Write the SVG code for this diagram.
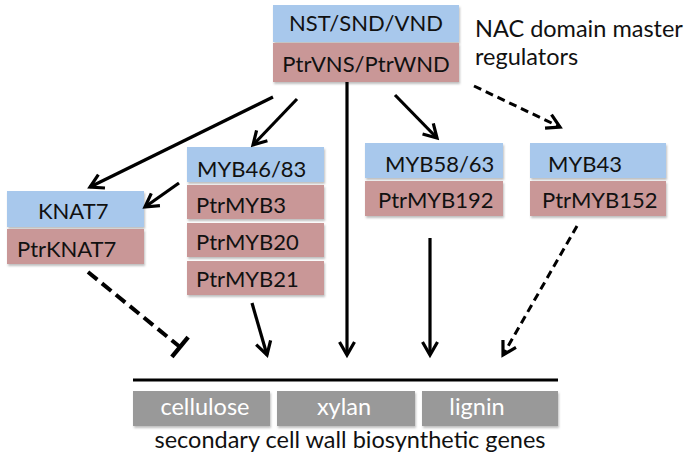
<svg xmlns="http://www.w3.org/2000/svg" width="685" height="459" viewBox="0 0 685 459">
<defs>
<style>
text{font-family:Lato,"Liberation Sans",sans-serif;font-size:22px;fill:#111}
.l{font-size:23.5px}
.b{fill:#a8c8ec;filter:url(#sh)}
.r{fill:#c99797;filter:url(#sh)}
.g{fill:#999999;filter:url(#sh)}
.w{fill:#fff}
.m{text-anchor:middle}
.a{stroke:#000;stroke-width:3.2;fill:none;marker-end:url(#ah)}
.d{stroke:#000;stroke-width:3;fill:none;stroke-dasharray:8 5;marker-end:url(#ah)}
.i{stroke:#000;stroke-width:4;fill:none;stroke-dasharray:12 6;marker-end:url(#bar)}
</style>
<filter id="sh" x="-10%" y="-20%" width="120%" height="150%">
<feDropShadow dx="1" dy="2" stdDeviation="1.2" flood-color="#000" flood-opacity="0.25"/>
</filter>
<marker id="ah" markerUnits="userSpaceOnUse" markerWidth="20" markerHeight="20" viewBox="-15 -10 17 20" refX="0" refY="0" orient="auto">
<path d="M-13,-7.5 L0,0 L-13,7.5" stroke="#000" stroke-width="3.2" fill="none"/>
</marker>
<marker id="bar" markerUnits="userSpaceOnUse" markerWidth="20" markerHeight="30" viewBox="-4 -14 8 28" refX="0" refY="0" orient="auto">
<path d="M0,-12 L0,12" stroke="#000" stroke-width="4" fill="none"/>
</marker>
</defs>

<g id="nac">
<rect class="b" x="273" y="5" width="186" height="37"/>
<rect class="r" x="273" y="43" width="186" height="39"/>
<text class="m" x="366" y="31">NST/SND/VND</text>
<text class="m" x="366" y="72">PtrVNS/PtrWND</text>
</g>
<g id="nac-label">
<text class="l" x="475" y="37">NAC domain master</text>
<text class="l" x="475" y="65">regulators</text>
</g>

<g id="knat7">
<rect class="b" x="7" y="191" width="137" height="36"/>
<rect class="r" x="7" y="229" width="137" height="35"/>
<text x="38" y="219">KNAT7</text>
<text x="17" y="257">PtrKNAT7</text>
</g>

<g id="myb46">
<rect class="b" x="187" y="147" width="137" height="35"/>
<rect class="r" x="187" y="185" width="137" height="34"/>
<rect class="r" x="187" y="223" width="137" height="34"/>
<rect class="r" x="187" y="261" width="137" height="34"/>
<text x="197" y="177">MYB46/83</text>
<text x="196" y="213">PtrMYB3</text>
<text x="196" y="250">PtrMYB20</text>
<text x="196" y="287">PtrMYB21</text>
</g>

<g id="myb58">
<rect class="b" x="365" y="143" width="138" height="35"/>
<rect class="r" x="365" y="181" width="138" height="35"/>
<text x="385" y="172">MYB58/63</text>
<text x="378" y="208">PtrMYB192</text>
</g>

<g id="myb43">
<rect class="b" x="530" y="143" width="136" height="35"/>
<rect class="r" x="530" y="181" width="136" height="35"/>
<text x="548" y="172">MYB43</text>
<text x="542" y="208">PtrMYB152</text>
</g>

<g id="genes">
<line x1="133" y1="380" x2="558" y2="380" stroke="#000" stroke-width="3"/>
<rect class="g" x="133" y="391" width="137" height="35"/>
<rect class="g" x="277" y="391" width="138" height="35"/>
<rect class="g" x="422" y="391" width="136" height="35"/>
<text class="m w l" x="205" y="415">cellulose</text>
<text class="m w l" x="344" y="415">xylan</text>
<text class="m w l" x="477" y="415">lignin</text>
<text class="m l" x="350" y="448">secondary cell wall biosynthetic genes</text>
</g>

<g id="connectors">
<line class="a" x1="273" y1="97" x2="90" y2="187"/>
<line class="a" x1="297" y1="99" x2="253" y2="145"/>
<line class="a" x1="179" y1="183" x2="145" y2="207"/>
<line class="a" x1="395" y1="95" x2="437" y2="138"/>
<line class="d" x1="474" y1="86" x2="560" y2="127"/>
<line class="a" x1="347" y1="82" x2="347" y2="355"/>
<line class="a" x1="252" y1="303" x2="267" y2="355"/>
<line class="a" x1="430" y1="238" x2="430" y2="355"/>
<line class="d" x1="577" y1="226" x2="503" y2="355"/>
<line class="i" x1="88" y1="272" x2="180" y2="347"/>
</g>
</svg>
